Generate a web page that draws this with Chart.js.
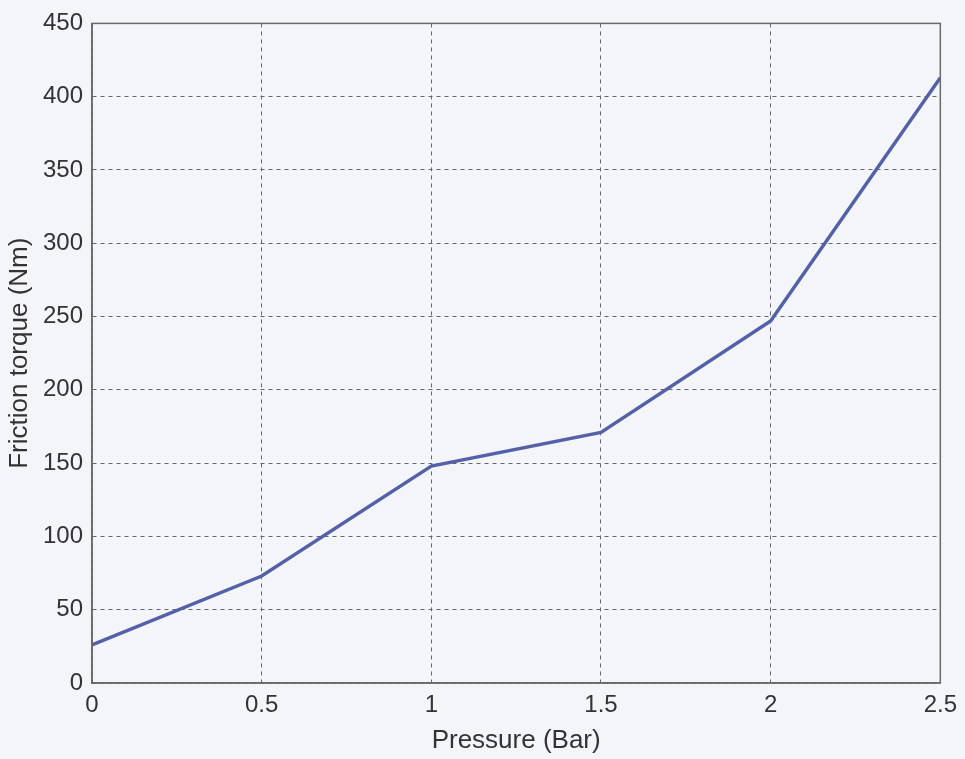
<!DOCTYPE html>
<html>
<head>
<meta charset="utf-8">
<script src="https://cdn.jsdelivr.net/npm/chart.js@4"></script>
<style>
  html, body { margin: 0; padding: 0; background: #f4f5f9; }
  #wrap { width: 965px; height: 759px; }
</style>
</head>
<body>
<div id="wrap"><canvas id="frictionChart" width="965" height="759"></canvas></div>
<script>
// values
const pressure = [0, 0.5, 1, 1.5, 2, 2.5];
const torque = [26, 73, 148, 171, 247, 413];
const xTicks = [0, 0.5, 1, 1.5, 2, 2.5];
const yTicks = [0, 50, 100, 150, 200, 250, 300, 350, 400, 450];

const textColor = '#333';
const gridColor = '#666';

// solid frame round the plot like a matlab box
const boxPlugin = {
  id: 'box',
  beforeDraw(chart) {
    const ctx = chart.ctx;
    ctx.save();
    ctx.fillStyle = '#f4f5f9';
    ctx.fillRect(0, 0, chart.width, chart.height);
    ctx.restore();
  },
  afterDatasetsDraw(chart) {
    const a = chart.chartArea;
    const ctx = chart.ctx;
    ctx.save();
    ctx.strokeStyle = '#6a6a6a';
    ctx.lineWidth = 1.5;
    ctx.strokeRect(a.left, a.top, a.right - a.left, a.bottom - a.top);
    ctx.restore();
  }
};

const ctx = document.getElementById('frictionChart').getContext('2d');
new Chart(ctx, {
  type: 'line',
  data: {
    datasets: [{
      label: 'Friction torque',
      data: pressure.map((p, i) => ({ x: p, y: torque[i] })),
      borderColor: '#5461a8',
      borderWidth: 3.5,
      pointRadius: 0,
      fill: false,
      tension: 0
    }]
  },
  options: {
    responsive: false,
    animation: false,
    layout: { padding: { top: 19, right: 23, left: 0, bottom: 0 } },
    plugins: {
      legend: { display: false },
      tooltip: { enabled: false }
    },
    scales: {
      x: {
        type: 'linear',
        min: 0,
        max: 2.5,
        afterFit(scale) { scale.height = 76; },
        afterBuildTicks(scale) { scale.ticks = xTicks.map(v => ({ value: v })); },
        ticks: {
          color: textColor,
          font: { family: 'Liberation Sans, Arial, sans-serif', size: 24 },
          padding: 8,
          maxRotation: 0,
          autoSkip: false,
          callback: v => String(v)
        },
        grid: { color: gridColor, lineWidth: 1, drawTicks: false },
        border: { color: '#6a6a6a', width: 1.5, dash: [4, 4] },
        title: {
          display: true,
          text: 'Pressure (Bar)',
          color: textColor,
          font: { family: 'Liberation Sans, Arial, sans-serif', size: 26 },
          padding: { top: 0, bottom: 3 }
        }
      },
      y: {
        type: 'linear',
        min: 0,
        max: 450,
        afterFit(scale) { scale.width = 92; },
        afterBuildTicks(scale) { scale.ticks = yTicks.map(v => ({ value: v })); },
        ticks: {
          color: textColor,
          font: { family: 'Liberation Sans, Arial, sans-serif', size: 24 },
          padding: 9,
          autoSkip: false
        },
        grid: { color: gridColor, lineWidth: 1, drawTicks: false },
        border: { color: '#6a6a6a', width: 1.5, dash: [4, 4] },
        title: {
          display: true,
          text: 'Friction torque (Nm)',
          color: textColor,
          font: { family: 'Liberation Sans, Arial, sans-serif', size: 26 },
          padding: { top: 4, bottom: 0 }
        }
      }
    }
  },
  plugins: [boxPlugin]
});
</script>
</body>
</html>
